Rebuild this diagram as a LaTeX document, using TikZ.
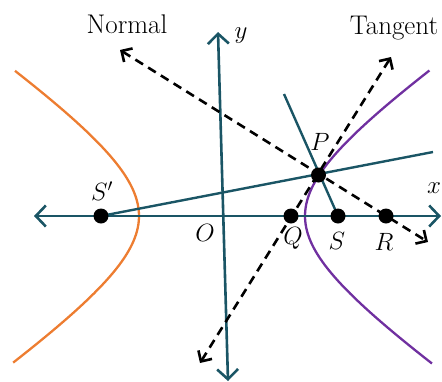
\RequirePackage{fix-cm}
\documentclass[tikz,border=0pt]{standalone}
\usepackage{fontspec}
\usetikzlibrary{arrows.meta}
\definecolor{axisteal}{HTML}{1A5565}
\definecolor{hypor}{HTML}{ED7D31}
\definecolor{hyppu}{HTML}{7030A0}
\tikzset{
  axisline/.style={draw=axisteal,line width=2.6pt,{Straight Barb[length=10pt,width=21pt]}-{Straight Barb[length=10pt,width=21pt]}},
  tealline/.style={draw=axisteal,line width=2.4pt},
  dashline/.style={draw=black,line width=2.6pt,dash pattern=on 9pt off 6pt,{Straight Barb[length=8pt,width=16pt]}-{Straight Barb[length=8pt,width=16pt]}},
  hyp/.style={line width=2.3pt},
  dot/.style={circle,fill=black,inner sep=0pt,minimum size=15pt},
  lab/.style={font=\fontsize{25}{30}\selectfont,inner sep=0pt},
  word/.style={font=\fontsize{27}{32}\selectfont,inner sep=0pt}
}
\begin{document}
\begin{tikzpicture}[x=1pt,y=-1pt]
\useasboundingbox (0,0) rectangle (442,381);
% hyperbolas
\draw[hyp,hypor] plot[domain=-1.336:1.345,samples=70,variable=\t] ({259-120*cosh(\t)},{216+82*sinh(\t)});
\draw[hyp,hyppu] plot[domain=-1.338:1.35,samples=70,variable=\t] ({185+120*cosh(\t)},{216+82*sinh(\t)});
% points
\coordinate (P) at (318.5,175);
\coordinate (Q) at (291,216);
\coordinate (R) at (386,216);
\coordinate (S) at (338,216);
\coordinate (Sp) at (101,216);
\coordinate (xl) at (34,216);
\coordinate (xr) at (441,216);
\coordinate (yt) at (218,32);
\coordinate (yb) at (228,381);
\coordinate (ftop) at (284,94);
\coordinate (spend) at (433,152);
\coordinate (n1) at (120,50);
\coordinate (n2) at (428,242);
\coordinate (t1) at (200,363);
\coordinate (t2) at (391,57);
% axes
\draw[axisline] (xl) -- (xr);
\draw[axisline] (yb) -- (yt);
% teal lines
\draw[tealline] (Sp) -- (spend);
\draw[tealline] (ftop) -- (S);
% dashed tangent and normal
\draw[dashline] (n1) -- (n2);
\draw[dashline] (t1) -- (t2);
% dots
\node[dot] (dP) at (P) {};
\node[dot] (dQ) at (Q) {};
\node[dot] (dR) at (R) {};
\node[dot] (dS) at (S) {};
\node[dot] (dSp) at (Sp) {};
% labels
\node[word] (normal) at (127,24) {Normal};
\node[word] (tangent) at (394,28) {Tangent};
\node[lab] (ly) at (241,36) {$y$};
\node[lab] (lx) at (434,188) {$x$};
\node[lab] (lP) at (320,142) {$P$};
\node[lab] (lSp) at (102,191) {$S'$};
\node[lab] (lO) at (205,233) {$O$};
\node[lab] (lQ) at (293,238) {$Q$};
\node[lab] (lS) at (337,241) {$S$};
\node[lab] (lR) at (384,242) {$R$};
\end{tikzpicture}
\end{document}
